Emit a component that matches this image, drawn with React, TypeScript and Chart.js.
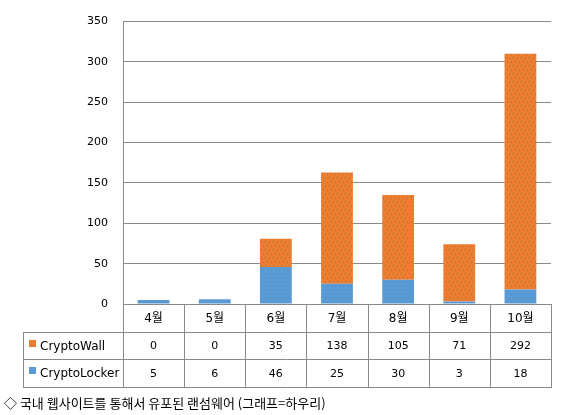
import React, { useEffect, useRef } from "react";
import { Chart, registerables } from "chart.js";

Chart.register(...registerables);

const categories = ["4월", "5월", "6월", "7월", "8월", "9월", "10월"];
const cryptoWall = [0, 0, 35, 138, 105, 71, 292];
const cryptoLocker = [5, 6, 46, 25, 30, 3, 18];
const seriesNames = ["CryptoWall", "CryptoLocker"];
const caption = "◇ 국내 웹사이트를 통해서 유포된 랜섬웨어 (그래프=하우리)";

const ORANGE = "#ED7D31";
const BLUE = "#5B9BD5";
const LINE = "#898989";
const LATIN = "'DejaVu Sans', 'Noto Sans CJK KR', sans-serif";
const CJK = "'Noto Sans CJK KR', 'DejaVu Sans', sans-serif";

function makePattern(base: string, dot: string): CanvasPattern | string {
  const c = document.createElement("canvas");
  c.width = 8;
  c.height = 8;
  const g = c.getContext("2d");
  if (!g) return base;
  g.fillStyle = base;
  g.fillRect(0, 0, 8, 8);
  g.fillStyle = dot;
  const pts = [
    [1, 1],
    [5, 2],
    [3, 5],
    [7, 6],
  ];
  pts.forEach(([x, y]) => g.fillRect(x, y, 1, 1));
  const p = g.createPattern(c, "repeat");
  return p || base;
}

const tablePlugin = {
  id: "dataTable",
  afterDraw(chart: any) {
    const ctx: CanvasRenderingContext2D = chart.ctx;
    const area = chart.chartArea;
    const xs = chart.scales.x;
    const n = categories.length;
    const colW = (area.right - area.left) / n;
    const y0 = Math.round(area.bottom);
    const rows = [y0, y0 + 28, y0 + 55, y0 + 83];
    const tableLeft = 23;
    const px = (v: number) => Math.round(v) + 0.5;

    ctx.save();
    ctx.strokeStyle = LINE;
    ctx.lineWidth = 1;
    ctx.beginPath();
    for (let i = 0; i <= n; i++) {
      const x = px(area.left + i * colW);
      ctx.moveTo(x, rows[0]);
      ctx.lineTo(x, rows[3] + 0.5);
    }
    ctx.moveTo(px(tableLeft), rows[1]);
    ctx.lineTo(px(tableLeft), rows[3] + 0.5);
    for (let r = 1; r <= 3; r++) {
      ctx.moveTo(tableLeft, px(rows[r]));
      ctx.lineTo(Math.round(area.right) + 1, px(rows[r]));
    }
    ctx.stroke();

    ctx.fillStyle = "#000";
    ctx.textAlign = "center";
    ctx.textBaseline = "middle";
    categories.forEach((c, i) => {
      const cx = xs.getPixelForValue(i);
      ctx.font = `12px ${LATIN}`;
      ctx.fillText(c, cx, (rows[0] + rows[1]) / 2 + 1);
      ctx.font = `11px ${LATIN}`;
      ctx.fillText(String(cryptoWall[i]), cx, (rows[1] + rows[2]) / 2 + 1);
      ctx.fillText(String(cryptoLocker[i]), cx, (rows[2] + rows[3]) / 2 + 1);
    });

    const colors = [ORANGE, BLUE];
    ctx.textAlign = "left";
    ctx.font = `12px ${LATIN}`;
    seriesNames.forEach((name, k) => {
      const cy = (rows[k + 1] + rows[k + 2]) / 2;
      ctx.fillStyle = colors[k];
      ctx.fillRect(29, Math.round(cy - 6), 7, 7);
      ctx.fillStyle = "#000";
      ctx.fillText(name, 40, cy + 1);
    });

    ctx.font = `13px ${CJK}`;
    ctx.textAlign = "left";
    ctx.fillText(caption, 4, 403);
    ctx.restore();
  },
};

export default function App() {
  const ref = useRef<HTMLCanvasElement | null>(null);

  useEffect(() => {
    document.body.style.margin = "0";
    const canvas = ref.current;
    if (!canvas) return;
    const orangeFill = makePattern(ORANGE, "#A0732C");
    const blueFill = makePattern(BLUE, "#4C89C2");
    const chart = new Chart(canvas, {
      type: "bar",
      data: {
        labels: categories,
        datasets: [
          {
            label: seriesNames[1],
            data: cryptoLocker,
            backgroundColor: blueFill as any,
            borderWidth: 0,
            barPercentage: 0.52,
            categoryPercentage: 1,
          },
          {
            label: seriesNames[0],
            data: cryptoWall,
            backgroundColor: orangeFill as any,
            borderWidth: 0,
            barPercentage: 0.52,
            categoryPercentage: 1,
          },
        ],
      },
      options: {
        responsive: false,
        animation: false,
        devicePixelRatio: 1,
        layout: { padding: { left: 0, right: 15, top: 19, bottom: 111 } },
        plugins: {
          legend: { display: false },
          tooltip: { enabled: false },
        },
        scales: {
          x: {
            stacked: true,
            display: false,
          },
          y: {
            stacked: true,
            min: 0,
            max: 350,
            ticks: {
              stepSize: 50,
              padding: 15,
              color: "#000",
              font: { family: LATIN, size: 11 },
            },
            grid: { color: LINE, drawTicks: false, lineWidth: 1 },
            border: { color: LINE, width: 1 },
            afterFit: (scale: any) => {
              scale.width = 123;
            },
          },
        },
      },
      plugins: [tablePlugin],
    });
    return () => chart.destroy();
  }, []);

  return (
    <div style={{ width: 566, height: 415, background: "#fff" }}>
      <canvas ref={ref} width={566} height={415} style={{ display: "block" }} />
    </div>
  );
}
